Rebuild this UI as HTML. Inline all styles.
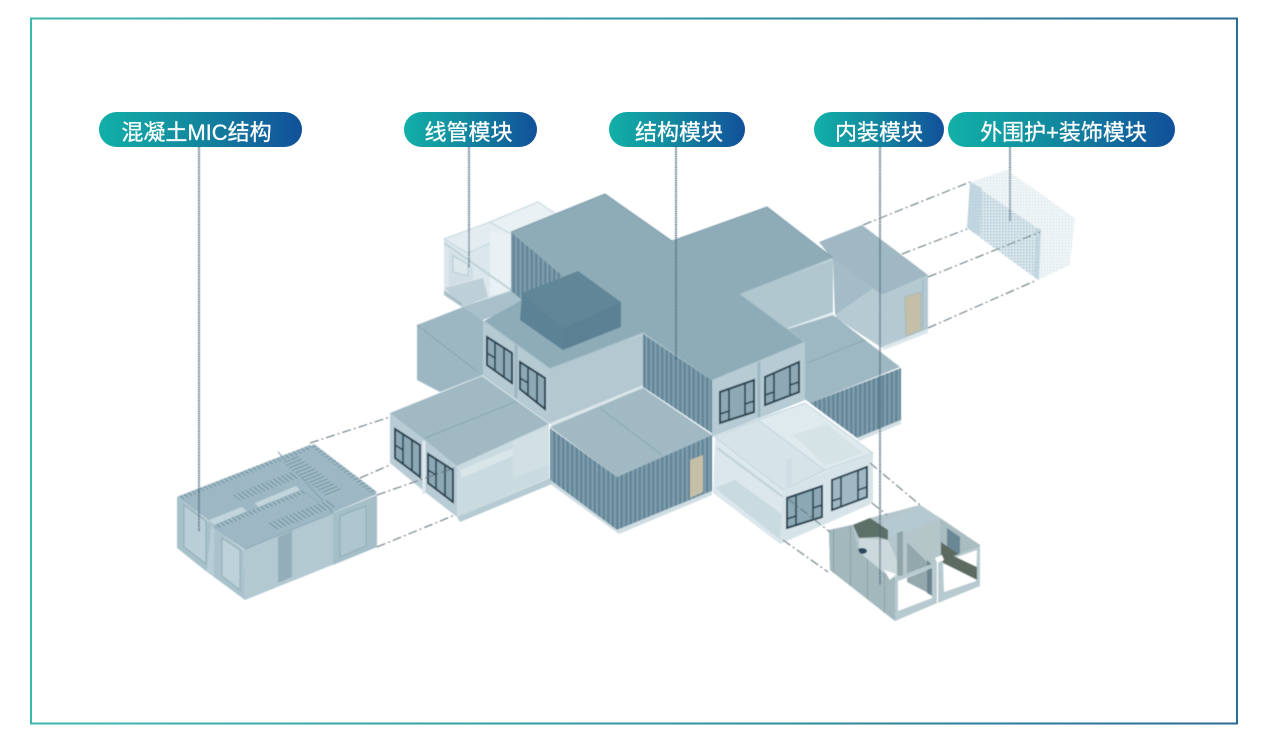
<!DOCTYPE html>
<html lang="zh">
<head>
<meta charset="utf-8">
<style>
html,body{margin:0;padding:0;background:#fff;}
body{width:1268px;height:743px;overflow:hidden;position:relative;font-family:"Liberation Sans","Noto Sans CJK SC",sans-serif;}
svg{position:absolute;left:0;top:0;}
.pill{position:absolute;top:112px;height:35px;border-radius:18px;background:linear-gradient(90deg,#12b0a8 0%,#128a9f 45%,#12509a 100%);}
.pill span{position:absolute;top:3px;left:0;width:100%;color:#fff;font-size:22px;line-height:35px;text-align:center;white-space:nowrap;-webkit-text-stroke:.3px #fff;}
</style>
</head>
<body>
<svg width="1268" height="743" viewBox="0 0 1268 743" xmlns="http://www.w3.org/2000/svg">
<defs>
<linearGradient id="fr" x1="0" y1="0" x2="1" y2="0"><stop offset="0" stop-color="#3db8ae"/><stop offset=".55" stop-color="#2f93a3"/><stop offset="1" stop-color="#2a6a94"/></linearGradient>
<pattern id="cor" width="4.5" height="10" patternUnits="userSpaceOnUse"><rect width="4.5" height="10" fill="#7395a6"/><rect width="1.4" height="10" fill="#5d8092"/><rect x="2.5" width="1" height="10" fill="#83a2b1"/></pattern>
<pattern id="wire" width="3" height="3" patternUnits="userSpaceOnUse"><rect width="3" height="3" fill="#dce8ee"/><rect width="1.5" height="1.5" fill="#a3c0cf"/></pattern>
<pattern id="wire2" width="3" height="3" patternUnits="userSpaceOnUse"><rect width="3" height="3" fill="#f0f5f7"/><rect width="1" height="1" fill="#c3d6df"/></pattern>
<pattern id="pan" width="17" height="10" patternUnits="userSpaceOnUse"><rect width="17" height="10" fill="#a3b8bd"/><rect width="1" height="10" fill="#8ba2a8"/></pattern>
<pattern id="slotU" width="4" height="10" patternUnits="userSpaceOnUse" patternTransform="matrix(1 -0.4 0.8 0.62 0 0)"><rect width="4" height="10" fill="#a3bdc8"/><rect width="1.7" height="10" fill="#7b9aa8"/></pattern>
<pattern id="slotV" width="10" height="4" patternUnits="userSpaceOnUse" patternTransform="matrix(1 -0.4 0.8 0.62 0 0)"><rect width="10" height="4" fill="#a3bdc8"/><rect width="10" height="1.7" fill="#7b9aa8"/></pattern>
<filter id="b" x="-5%" y="-5%" width="110%" height="110%"><feGaussianBlur stdDeviation="0.45"/></filter>
</defs>

<rect x="31" y="18.5" width="1206" height="705" fill="none" stroke="url(#fr)" stroke-width="2"/>

<g filter="url(#b)">
<!-- back glass module -->
<polygon points="444,239 490,222 538,202 556,214 560,240 520,290 462,307 444,293" fill="#dbe7ec"/>
<polygon points="444,239 490,222 511,234 468,253" fill="#e3edf1" stroke="#c3d5dc" stroke-width="1"/>
<polygon points="490,222 538,202 556,214 511,234" fill="#e9f1f4" stroke="#c3d5dc" stroke-width="1"/>
<polygon points="449,250 473,268 473,280 449,286" fill="#d0dfe5"/>
<polygon points="453,256 468,264 468,276 453,272" fill="#dde8ec" stroke="#b5cbd4" stroke-width="1"/>
<polygon points="445,288 483,278 488,297 462,307" fill="#bed0d7"/>
<polygon points="444,290 462,303 462,307 444,295" fill="#a9c0c9"/>
<polygon points="490,232 511,234 511,290 490,296" fill="#eaf1f4"/>
<line x1="444" y1="243" x2="511" y2="290" stroke="#c0d3da" stroke-width="2"/>

<!-- left back block -->
<polygon points="417,325 463,307 483,320 483,375 440,392 417,380" fill="#9db7c2"/>
<line x1="417" y1="325" x2="478" y2="372" stroke="#86a3af" stroke-width="1"/>
<polygon points="462,307 520,288 528,303 483,320" fill="#a8c0ca"/>

<!-- right back block -->
<polygon points="819,242 862,225 928,275 882,295 833,260" fill="#9fb8c3"/>
<polygon points="833,258 873,288 882,295 882,348 836,318" fill="#b6cad3"/>
<polygon points="833,258 873,288 835,315" fill="#a3bcc7"/>
<polygon points="882,295 928,275 928,329 882,347" fill="#b4c9d2"/>
<polygon points="882,347 928,329 928,333 884,350" fill="#dbe7eb"/>
<polygon points="905,297 921,292 921,330 906,336" fill="#c5bfa8" stroke="#a9b7b4" stroke-width="1"/>
<line x1="923" y1="280" x2="923" y2="330" stroke="#a3bcc7" stroke-width="1.5"/>
<polygon points="740,294 833,259 833,313 788,329" fill="#b1c7d0"/>
<polygon points="788,328 833,312 833,316 792,331" fill="#e3edf0"/>

<!-- lower right block -->
<polygon points="788,329 833,315 900,367 810,403 772,375" fill="#9eb8c3"/>
<line x1="807" y1="363" x2="865" y2="340" stroke="#8aa7b3" stroke-width="1"/>
<polygon points="810,403 901,368 901,420 857,438" fill="url(#cor)"/>
<polygon points="857,438 901,420 901,424 859,441" fill="#d4e1e6"/>

<!-- main roof -->
<polygon points="511,232 605,194 672,241 767,207 833,258 740,294 805,342 712,381 643,333 550,369 484,321 522,300 563,276" fill="#8eacb8"/>
<polyline points="511,232 605,194 672,241 767,207 833,258" fill="none" stroke="#7f9fac" stroke-width="1"/>
<polyline points="805,342 712,381 643,333 550,369 484,321" fill="none" stroke="#a7c0ca" stroke-width="1.5"/>
<polyline points="833,258 740,294 805,342" fill="none" stroke="#a7c0ca" stroke-width="1"/>
<!-- corrugated under upper roof -->
<polygon points="511,232 563,276 522,300 511,291" fill="url(#cor)"/>

<!-- dark box -->
<polygon points="522,293 578,271 621,302 563,328" fill="#608698"/>
<polygon points="522,293 563,328 563,350 520,320" fill="#5c8295"/>
<polygon points="563,328 621,302 621,327 563,350" fill="#5b8195"/>

<!-- window wall left -->
<polygon points="483,321 550,369 550,424 483,376" fill="#b5cad3"/>
<line x1="516" y1="345" x2="516" y2="398" stroke="#9db7c2" stroke-width="3"/>
<polygon points="487,337 512,353 512,383 487,365" fill="#8ea9b5" stroke="#27414f" stroke-width="2"/>
<path d="M495 343V371 M504 348V378 M487 353L495 358" stroke="#27414f" stroke-width="1.6" fill="none"/>
<polygon points="520,362 545,378 545,409 520,389" fill="#8ea9b5" stroke="#27414f" stroke-width="2"/>
<path d="M528 367V395 M537 373V403 M520 378L528 383" stroke="#27414f" stroke-width="1.6" fill="none"/>

<!-- light center wall -->
<polygon points="550,369 643,334 643,387 550,424" fill="#b3c8d1"/>
<polygon points="550,423 643,385 649,389 552,428" fill="#d9e5e9"/>
<!-- upper corrugated -->
<polygon points="643,334 713,381 713,434 643,387" fill="url(#cor)"/>

<!-- right window face -->
<polygon points="712,380 805,342 805,400 712,437" fill="#b6cbd4"/>
<line x1="759" y1="362" x2="759" y2="418" stroke="#9db7c2" stroke-width="3"/>
<polygon points="720,392 754,380 754,412 720,423" fill="#8ea9b5" stroke="#27414f" stroke-width="2"/>
<path d="M729 389V420 M745 383V415 M745 404L754 401 M720 414L729 411" stroke="#27414f" stroke-width="1.6" fill="none"/>
<polygon points="765,377 799,362 799,392 765,405" fill="#8ea9b5" stroke="#27414f" stroke-width="2"/>
<path d="M774 373V401 M790 366V395 M790 385L799 382 M765 395L774 392" stroke="#27414f" stroke-width="1.6" fill="none"/>

<!-- center corrugated block -->
<polygon points="550,427 643,388 712,435 617,477" fill="#a0b9c3"/>
<line x1="600" y1="408" x2="663" y2="456" stroke="#8aa7b3" stroke-width="1"/>
<polygon points="550,428 617,477 617,530 550,480" fill="url(#cor)"/>
<polygon points="617,477 712,435 712,491 617,530" fill="url(#cor)"/>
<polygon points="550,480 617,530 712,491 712,495 619,534 550,484" fill="#cfdde3"/>
<polygon points="690,460 703,455 703,492 690,498" fill="#c5bfa8"/>

<!-- front left module -->
<polygon points="390,413 482,376 549,424 457,466 425,442" fill="#a0b9c3"/>
<line x1="425" y1="438" x2="515" y2="402" stroke="#88a5b1" stroke-width="1"/>
<polygon points="390,413 425,440 457,466 457,517 425,492 390,463" fill="#b8ccd5"/>
<line x1="424" y1="441" x2="424" y2="494" stroke="#e0e9ed" stroke-width="3"/>
<polygon points="395,429 420,445 420,477 395,458" fill="#8ba8b4" stroke="#27414f" stroke-width="2"/>
<path d="M403 434V464 M412 440V471 M395 445L403 450" stroke="#27414f" stroke-width="1.6" fill="none"/>
<polygon points="428,454 453,470 453,502 428,483" fill="#8ba8b4" stroke="#27414f" stroke-width="2"/>
<path d="M436 459V489 M445 465V496 M428 470L436 475" stroke="#27414f" stroke-width="1.6" fill="none"/>
<polygon points="457,466 549,424 549,478 457,517" fill="#c9dae1"/>
<polygon points="513,441 549,426 549,465 513,478" fill="#d1e0e5"/>
<polygon points="460,470 513,448 513,456 462,478" fill="#d8e5e9"/>
<polygon points="457,517 550,478 552,484 460,522" fill="#b5cad2"/>

<!-- front right glass module -->
<polygon points="715,437 758,418 805,403 873,453 873,503 780,544 713,493" fill="#dde9ed"/>
<polygon points="715,437 758,420 825,470 783,490" fill="#d6e4e9" stroke="#c3d5dc" stroke-width="1"/>
<polygon points="758,420 805,403 873,453 825,470" fill="#deeaee" stroke="#c3d5dc" stroke-width="1"/>
<polygon points="793,435 827,424 863,453 825,466" fill="#d5e3e7"/>
<polygon points="715,440 783,492 781,543 713,493" fill="#dbe7ec"/>
<polygon points="715,488 735,480 783,515 782,541" fill="#c9dae0"/>
<polygon points="786,460 792,458 792,486 786,489" fill="#cfdee4"/>
<line x1="717" y1="448" x2="783" y2="497" stroke="#bdd0d8" stroke-width="2"/>
<polygon points="783,490 873,453 873,503 780,544" fill="#d6e4e9"/>
<polygon points="787,498 822,486 822,517 787,528" fill="#8ba8b4" stroke="#27414f" stroke-width="2"/>
<path d="M796 495V525 M813 489V520 M813 508L822 505 M787 519L796 516" stroke="#27414f" stroke-width="1.6" fill="none"/>
<polygon points="832,480 867,467 867,497 832,510" fill="#9fb8c3" stroke="#27414f" stroke-width="2"/>
<path d="M841 477V507 M858 470V500 M858 490L867 487 M832 501L841 498" stroke="#27414f" stroke-width="1.6" fill="none"/>

<!-- interior module -->
<polygon points="829,530 852,525 870,518 920,505 940,518 980,545 978,578 937,603 895,621 830,570" fill="#b4c6cb"/>
<polygon points="883,522 920,505 940,518 912,530 897,535 888,540" fill="#b5c9d0"/>
<polygon points="859,538 888,540 897,560 897,578 883,572 859,552" fill="#ccd9dc"/>
<polygon points="853,525 870,518 888,530 888,540 878,537 859,538" fill="#5d6f68"/>
<ellipse cx="862" cy="551" rx="5" ry="3" fill="#2c4a5e"/>
<polygon points="912,530 940,518 940,558 930,563 912,543" fill="#b5c6c9"/>
<polygon points="897,533 903,531 903,577 897,575" fill="#8fa5aa"/>
<polygon points="907,542 932,567 932,595 907,582" fill="#93a8ad"/>
<polygon points="927,560 932,565 932,596 927,593" fill="#6b8590"/>
<polygon points="940,518 980,545 978,580 940,558" fill="#a9bcc0"/>
<polygon points="947,528 960,537 960,557 947,550" fill="#6b8796"/>
<polygon points="941,542 977,567 977,580 941,557" fill="#5d6b60"/>
<polygon points="829,530 852,525 859,552 883,572 895,578 895,621 830,570" fill="url(#pan)"/>
<polygon points="884,570 896,574 890,580" fill="#fff"/>
<polygon points="895,578 937,562 937,602 895,621" fill="#b7cad0"/>
<polygon points="938,562 980,546 980,586 938,603" fill="#b7cad0"/>
<polygon points="898,581 932,568 932,598 898,611" fill="#fff"/>
<polygon points="907,578 932,568 932,595 907,582" fill="#93a8ad"/>
<polygon points="927,570 932,568 932,596 927,593" fill="#6b8590"/>
<polygon points="943,562 977,550 976,581 944,592" fill="#fff"/>
<polygon points="941,550 977,567 977,580 943,563" fill="#5d6b60"/>
<polygon points="935,558 942,555 944,560 937,563" fill="#fff"/>
<line x1="937.5" y1="562" x2="937.5" y2="603" stroke="#fff" stroke-width="1.2"/>

<!-- concrete module -->
<polygon points="177,497 310,445 377,494 245,550 214,529 209,521" fill="#9db8c4"/>
<polygon points="177,497 212,524 207,572 177,548" fill="#a7c1cb"/>
<polygon points="184,505 206,521 206,564 184,547" fill="#b9cfd7" stroke="#8fabb7" stroke-width="1"/>
<polygon points="212,523 214,529 214,577 207,572" fill="#b8ced6"/>
<polygon points="214,529 244,550 245,600 214,577" fill="#a9c2cc"/>
<polygon points="222,538 240,550 240,590 222,576" fill="#bdd1d9" stroke="#8fabb7" stroke-width="1"/>
<polygon points="244,550 377,495 377,547 245,600" fill="#b2c9d2"/>
<polygon points="278,537 292,531 292,577 278,583" fill="#93aeb9"/>
<polygon points="333,513 377,495 377,547 333,565" fill="#a4bec8"/>
<polygon points="340,516 366,506 366,546 340,557" fill="#aec6cf" stroke="#8fabb7" stroke-width="1"/>
<polygon points="209,520 242,507 247,511 214,525" fill="#c3d5dc"/>
<polygon points="255,503 296,486 300,490 258,507" fill="#c3d5dc"/>
<polyline points="214,528 303,491 333,513 245,549" fill="none" stroke="#8dabb8" stroke-width="1"/>
<line x1="278" y1="452" x2="333" y2="512" stroke="#7f9eac" stroke-width="1"/>
<!-- slots -->
<polygon points="179,496 310,445 312,449 181,500" fill="url(#slotU)"/>
<polygon points="233,495 293,471 301,477 241,501" fill="url(#slotU)"/>
<polygon points="216,524 303,490 306,493 219,528" fill="url(#slotU)"/>
<polygon points="268,523 327,500 335,507 276,530" fill="url(#slotU)"/>
<polygon points="283,463 298,456 342,490 327,497" fill="url(#slotV)"/>
<polygon points="310,446 314,444 377,492 373,495" fill="url(#slotV)"/>

<!-- wire module -->
<polygon points="970,182 1007,170 1075,218 1040,230" fill="url(#wire2)"/>
<polygon points="970,182 1040,230 1038,280 967,228" fill="url(#wire)"/>
<polygon points="1040,230 1075,218 1070,265 1038,280" fill="url(#wire2)"/>
<polygon points="970,182 982,188 980,236 967,228" fill="#bcd2dd" opacity=".8"/>
<polygon points="1036,228 1041,229 1039,280 1034,277" fill="#bcd2dd" opacity=".8"/>

<!-- dashed links -->
<g stroke="#5f6f76" stroke-width="1" stroke-dasharray="9 3 2 3" fill="none">
<line x1="310" y1="443" x2="390" y2="417"/>
<line x1="360" y1="478" x2="390" y2="465"/>
<line x1="377" y1="495" x2="457" y2="467"/>
<line x1="377" y1="547" x2="455" y2="515"/>
<line x1="863" y1="225" x2="970" y2="182"/>
<line x1="902" y1="254" x2="967" y2="229"/>
<line x1="928" y1="277" x2="1040" y2="232"/>
<line x1="928" y1="328" x2="1037" y2="280"/>
<line x1="870" y1="463" x2="920" y2="505"/>
<line x1="872" y1="503" x2="887" y2="515"/>
<line x1="787" y1="498" x2="830" y2="532"/>
<line x1="783" y1="540" x2="828" y2="572"/>
</g>

<!-- dotted leaders -->
<g stroke="#3f5f73" stroke-width="2" stroke-dasharray="1.2 1" fill="none">
<line x1="199" y1="147" x2="199" y2="531"/>
<line x1="469" y1="147" x2="469" y2="267"/>
<line x1="676" y1="147" x2="676" y2="360"/>
<line x1="880" y1="147" x2="880" y2="585"/>
<line x1="1010" y1="147" x2="1010" y2="221"/>
</g>
</g>
</svg>

<div class="pill" style="left:99px;width:203px;"><span style="left:-4px;">混凝土MIC结构</span></div>
<div class="pill" style="left:404px;width:133px;"><span style="left:-2px;">线管模块</span></div>
<div class="pill" style="left:609px;width:136px;"><span style="left:2px;">结构模块</span></div>
<div class="pill" style="left:814px;width:130px;"><span>内装模块</span></div>
<div class="pill" style="left:948px;width:227px;"><span style="left:2px;">外围护+装饰模块</span></div>
</body>
</html>
